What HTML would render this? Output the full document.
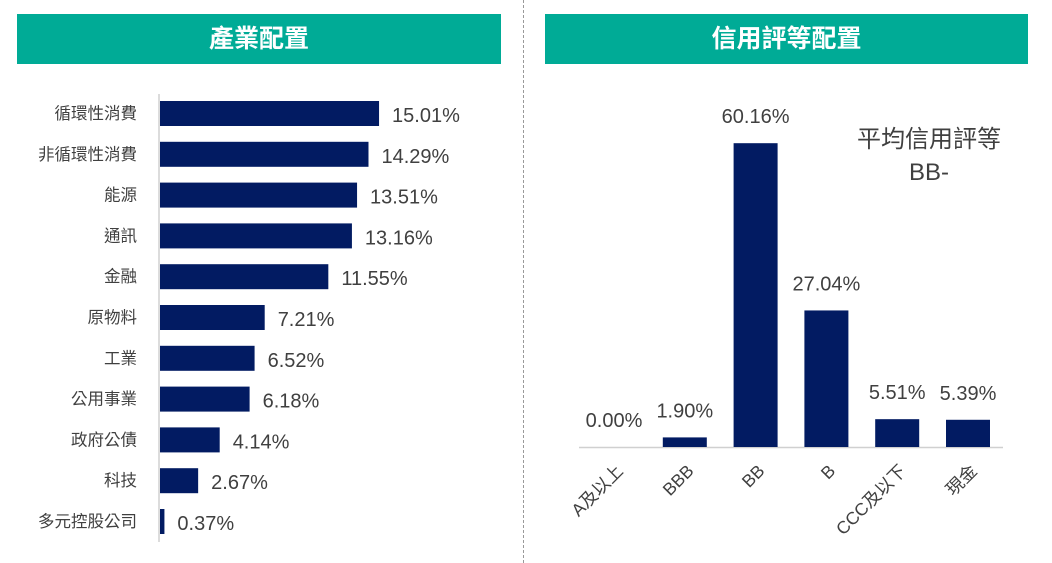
<!DOCTYPE html>
<html><head><meta charset="utf-8"><style>
body{margin:0;width:1052px;height:563px;background:#fff;overflow:hidden;font-family:"Liberation Sans","Noto Sans CJK TC",sans-serif;}
.hdr{position:absolute;top:14px;height:50px;background:#00ab96;color:#fff;font-size:25px;font-weight:bold;text-align:center;line-height:50px;}
</style></head><body>
<div class="hdr" style="left:17px;width:484px">產業配置</div>
<div class="hdr" style="left:545px;width:483px">信用評等配置</div>
<div style="position:absolute;left:523px;top:0;height:563px;border-left:1px dashed #999"></div>
<svg id="c" width="1052" height="563" style="position:absolute;left:0;top:0" font-family="Liberation Sans, Noto Sans CJK TC, sans-serif"></svg>
<script>
const indCats=["循環性消費","非循環性消費","能源","通訊","金融","原物料","工業","公用事業","政府公債","科技","多元控股公司"];
const indVals=[15.01,14.29,13.51,13.16,11.55,7.21,6.52,6.18,4.14,2.67,0.37];
const rtCats=["A及以上","BBB","BB","B","CCC及以下","現金"];
const rtVals=[0.00,1.90,60.16,27.04,5.51,5.39];
const NS="http://www.w3.org/2000/svg",svg=document.getElementById('c');
function mk(t,a,txt){const e=document.createElementNS(NS,t);for(const k in a)e.setAttribute(k,a[k]);if(txt!==undefined)e.textContent=txt;svg.appendChild(e);return e;}
const xI=v=>159+v*14.66, yI=i=>101+i*40.8;
let ax=mk('line',{x1:159,y1:94,x2:159,y2:542,stroke:'#d0d0d0','stroke-width':1.5});

indCats.forEach((c,i)=>{
 let r=mk('rect',{x:160,y:yI(i),width:Math.max(xI(indVals[i])-160,3),height:25,fill:'#021b62'});
 
 let l=mk('text',{x:137,y:yI(i)+18,'text-anchor':'end','font-size':16.5,fill:'#404040'},c);
 
 let v=mk('text',{x:Math.max(xI(indVals[i]),163)+13,y:yI(i)+21,'font-size':20,fill:'#404040'},indVals[i].toFixed(2)+'%');
 
});
const base=447, yR=v=>base-v*5.05, xR=i=>614+i*70.8;
let bl=mk('line',{x1:579,y1:base+0.5,x2:1003,y2:base+0.5,stroke:'#d0d0d0','stroke-width':1.5});

rtCats.forEach((c,i)=>{
 const cx=xR(i);
 let r=mk('rect',{x:cx-22,y:yR(rtVals[i]),width:44,height:base-yR(rtVals[i]),fill:'#021b62'});
 
 let v=mk('text',{x:cx,y:yR(rtVals[i])-20,'text-anchor':'middle','font-size':20,fill:'#404040'},rtVals[i].toFixed(2)+'%');
 
 let l=mk('text',{x:cx+10,y:472,'text-anchor':'end','font-size':17.5,fill:'#404040',transform:`rotate(-45 ${cx+10} 472)`},c);
 
});
let n1=mk('text',{x:929,y:147,'text-anchor':'middle','font-size':24,fill:'#404040'},'平均信用評等');

let n2=mk('text',{x:929,y:180,'text-anchor':'middle','font-size':24,fill:'#404040'},'BB-');

</script>
</body></html>
